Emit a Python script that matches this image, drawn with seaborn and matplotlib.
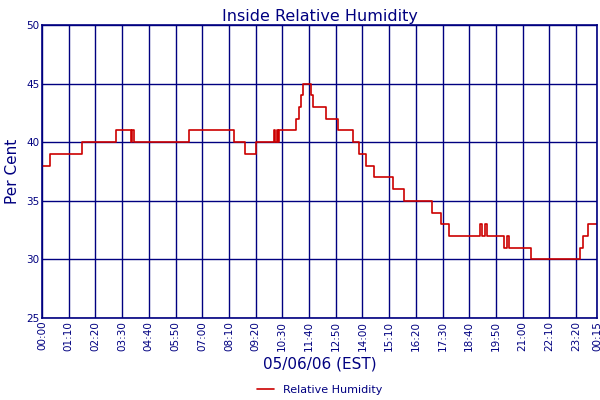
import matplotlib
matplotlib.use("Agg")
import matplotlib.pyplot as plt
import seaborn as sns
import pandas as pd

# minutes since 00:00 and humidity (%)
minutes = [0, 21, 104, 193, 234, 237, 242, 385, 503, 531, 560, 607, 612, 617, 620, 622,
           667, 674, 680, 685, 706, 711, 745, 776, 815, 831, 849, 870, 919, 948, 1023,
           1047, 1068, 1148, 1154, 1161, 1167, 1211, 1219, 1224, 1281, 1411, 1419, 1432, 1455]
humidity = [38, 39, 40, 41, 40, 41, 40, 41, 40, 39, 40, 41, 40, 41, 40, 41,
            42, 43, 44, 45, 44, 43, 42, 41, 40, 39, 38, 37, 36, 35, 34,
            33, 32, 33, 32, 33, 32, 31, 32, 31, 30, 31, 32, 33, 33]
tick_minutes = list(range(0, 1401, 70)) + [1455]
tick_labels = ["00:00", "01:10", "02:20", "03:30", "04:40", "05:50", "07:00", "08:10",
               "09:20", "10:30", "11:40", "12:50", "14:00", "15:10", "16:20", "17:30",
               "18:40", "19:50", "21:00", "22:10", "23:20", "00:15"]

df = pd.DataFrame({"t": minutes, "rh": humidity})
navy = "#000080"

sns.set_style("white")
fig = plt.figure(figsize=(6, 4), dpi=100)
ax = fig.add_axes([0.07, 0.205, 0.925, 0.7325])
sns.lineplot(data=df, x="t", y="rh", ax=ax, color="#cc0000", linewidth=1.2,
             drawstyle="steps-post", label="Relative Humidity")

ax.set_xlim(0, 1455)
ax.set_ylim(25, 50)
ax.set_xticks(tick_minutes)
ax.set_xticklabels(tick_labels, rotation=90, fontsize=7.5, color=navy)
ax.set_yticks(range(25, 51, 5))
ax.tick_params(axis="y", labelsize=7.5, labelcolor=navy)
ax.tick_params(length=0, pad=2)
ax.grid(True, color=navy, linewidth=1)
for s in ax.spines.values():
    s.set_color(navy)
    s.set_linewidth(1.2)

ax.set_title("Inside Relative Humidity", color=navy, fontsize=11.5, pad=3)
ax.set_xlabel("05/06/06 (EST)", color=navy, fontsize=11, labelpad=4)
ax.set_ylabel("Per Cent", color=navy, fontsize=11, labelpad=4)
ax.legend(loc="center", bbox_to_anchor=(0.5, -0.245), frameon=False,
          fontsize=8, handlelength=1.5, labelcolor=navy, borderpad=0)

fig.savefig("out.png", dpi=100)
